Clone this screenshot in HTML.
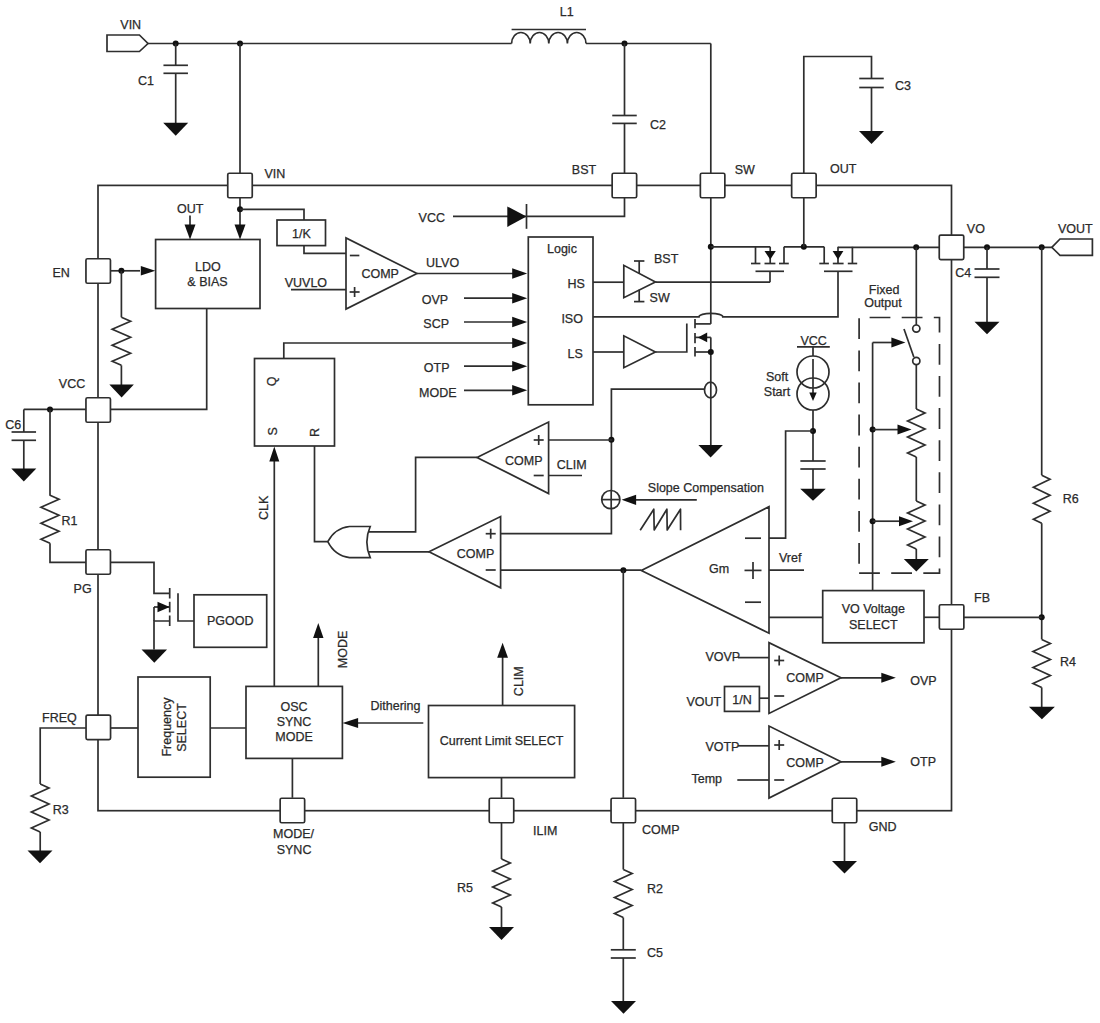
<!DOCTYPE html>
<html><head><meta charset="utf-8"><style>
html,body{margin:0;padding:0;background:#fff;width:1100px;height:1023px;overflow:hidden}
svg{display:block}
text{font-family:"Liberation Sans",sans-serif;fill:#2a2a2a;stroke:#2a2a2a;stroke-width:0.25px}
</style></head><body>
<svg width="1100" height="1023" viewBox="0 0 1100 1023">
<g fill="none" stroke="#2e2e2e" stroke-width="1.7" stroke-linecap="butt" stroke-linejoin="miter">
<polygon points="107,35 139.4,35 148,43.5 139.4,51.5 107,51.5"/>
<text x="120.3" y="28.5" font-size="12.5" text-anchor="start" >VIN</text>
<line x1="148" y1="43.5" x2="511.6" y2="43.5"/>
<circle cx="175.7" cy="43.5" r="3" fill="#111" stroke="none"/>
<circle cx="240" cy="43.5" r="3" fill="#111" stroke="none"/>
<line x1="175.7" y1="43.5" x2="175.7" y2="65.3"/>
<line x1="163.45" y1="65.3" x2="187.95" y2="65.3"/>
<line x1="163.45" y1="73.3" x2="187.95" y2="73.3"/>
<line x1="175.7" y1="73.3" x2="175.7" y2="123"/>
<polygon points="163.20,122.7 188.20,122.7 175.7,135.7" fill="#111" stroke="none"/>
<text x="138" y="85.2" font-size="12.5" text-anchor="start" >C1</text>
<line x1="240" y1="43.5" x2="240" y2="173.3"/>
<path d="M511.6,43.5 A9.30,11 0 0 1 530.20,43.5 A9.30,11 0 0 1 548.80,43.5 A9.30,11 0 0 1 567.40,43.5 A9.30,11 0 0 1 586.00,43.5 " fill="none"/>
<line x1="511.6" y1="29.5" x2="586" y2="29.5"/>
<text x="559.8" y="15.5" font-size="12.5" text-anchor="start" >L1</text>
<line x1="586" y1="43.5" x2="710.8" y2="43.5"/>
<circle cx="624.5" cy="43.5" r="3" fill="#111" stroke="none"/>
<line x1="710.8" y1="43.5" x2="710.8" y2="173.3"/>
<line x1="624.5" y1="43.5" x2="624.5" y2="115.5"/>
<line x1="612.25" y1="115.5" x2="636.75" y2="115.5"/>
<line x1="612.25" y1="123.4" x2="636.75" y2="123.4"/>
<line x1="624.5" y1="123.4" x2="624.5" y2="173.3"/>
<text x="650" y="129.2" font-size="12.5" text-anchor="start" >C2</text>
<polyline points="803.8,173.3 803.8,56.5 871.5,56.5 871.5,78.5"/>
<line x1="859.25" y1="78.5" x2="883.75" y2="78.5"/>
<line x1="859.25" y1="87.5" x2="883.75" y2="87.5"/>
<line x1="871.5" y1="87.5" x2="871.5" y2="131.5"/>
<polygon points="859.00,131 884.00,131 871.5,144" fill="#111" stroke="none"/>
<text x="895" y="90" font-size="12.5" text-anchor="start" >C3</text>
<rect x="98" y="185.4" width="853.50" height="625.30" fill="none"/>
<text x="264.5" y="178.2" font-size="12.5" text-anchor="start" >VIN</text>
<text x="571.8" y="174.2" font-size="12.5" text-anchor="start" >BST</text>
<text x="734.7" y="174.2" font-size="12.5" text-anchor="start" >SW</text>
<text x="830" y="173.4" font-size="12.5" text-anchor="start" >OUT</text>
<text x="966.8" y="232.7" font-size="12.5" text-anchor="start" >VO</text>
<text x="1058" y="232.7" font-size="12.5" text-anchor="start" >VOUT</text>
<text x="52.5" y="277" font-size="12.5" text-anchor="start" >EN</text>
<text x="58.8" y="387.8" font-size="12.5" text-anchor="start" >VCC</text>
<text x="73.6" y="593.3" font-size="12.5" text-anchor="start" >PG</text>
<text x="42" y="722.3" font-size="12.5" text-anchor="start" >FREQ</text>
<text x="273" y="838" font-size="12.5" text-anchor="start" >MODE/</text>
<text x="276.7" y="853.6" font-size="12.5" text-anchor="start" >SYNC</text>
<text x="533" y="835" font-size="12.5" text-anchor="start" >ILIM</text>
<text x="642" y="834.2" font-size="12.5" text-anchor="start" >COMP</text>
<text x="868.8" y="831" font-size="12.5" text-anchor="start" >GND</text>
<text x="974" y="601.5" font-size="12.5" text-anchor="start" >FB</text>
<line x1="110.4" y1="270.8" x2="140" y2="270.8"/>
<circle cx="121.4" cy="270.8" r="3" fill="#111" stroke="none"/>
<polygon points="155.3,270.8 140.8,266.0 140.8,275.6" fill="#111" stroke="none"/>
<rect x="155.6" y="239.5" width="104.40" height="69.00" fill="none"/>
<text x="207.8" y="271" font-size="12.5" text-anchor="middle" >LDO</text>
<text x="207.5" y="286" font-size="12.5" text-anchor="middle" >&amp; BIAS</text>
<line x1="190" y1="215.5" x2="190" y2="226"/>
<polygon points="190,239.5 184.5,224.5 195.5,224.5" fill="#111" stroke="none"/>
<text x="177" y="212.7" font-size="12.5" text-anchor="start" >OUT</text>
<line x1="240" y1="197.8" x2="240" y2="226"/>
<circle cx="240" cy="209.3" r="3" fill="#111" stroke="none"/>
<polygon points="240,239.5 234.5,224.5 245.5,224.5" fill="#111" stroke="none"/>
<line x1="121.4" y1="270.8" x2="121.4" y2="317.3"/>
<polyline points="121.4,317.3 130.6,321.3 112.2,329.3 130.6,337.3 112.2,345.3 130.6,353.3 112.2,361.3 121.4,365.3"/>
<line x1="121.4" y1="365.3" x2="121.4" y2="385"/>
<polygon points="109.35,384.6 133.85,384.6 121.6,397.6" fill="#111" stroke="none"/>
<polyline points="206.7,308.5 206.7,409.4 110.6,409.4"/>
<line x1="86" y1="409.4" x2="23.8" y2="409.4"/>
<circle cx="50" cy="409.4" r="3" fill="#111" stroke="none"/>
<line x1="23.8" y1="409.4" x2="23.8" y2="432"/>
<line x1="11.55" y1="432" x2="36.05" y2="432"/>
<line x1="11.55" y1="440.3" x2="36.05" y2="440.3"/>
<line x1="23.8" y1="440.3" x2="23.8" y2="469"/>
<polygon points="11.30,468.5 36.30,468.5 23.8,481.5" fill="#111" stroke="none"/>
<text x="5.3" y="429.2" font-size="12.5" text-anchor="start" >C6</text>
<line x1="50" y1="409.4" x2="50" y2="495.8"/>
<polyline points="50,495.3 59,499.3 41,507.3 59,515.3 41,523.3 59,531.3 41,539.3 50,543.3"/>
<polyline points="50,543.3 50,562.3 86,562.3"/>
<text x="61.5" y="524.5" font-size="12.5" text-anchor="start" >R1</text>
<polyline points="110.4,562.3 154,562.3 154,593.3 169.7,593.3"/>
<line x1="169.7" y1="588" x2="169.7" y2="598.5"/>
<line x1="169.7" y1="601.8" x2="169.7" y2="612.4"/>
<line x1="169.7" y1="615.5" x2="169.7" y2="626"/>
<polyline points="154,607 169.7,607"/>
<polygon points="169.7,607 157.5,601.8 157.5,612.2" fill="#111" stroke="none"/>
<polyline points="169.7,621 154,621 154,649.5"/>
<line x1="154" y1="607" x2="154" y2="621"/>
<polygon points="141.55,649.5 167.05,649.5 154.3,662.8" fill="#111" stroke="none"/>
<polyline points="178,593.3 178,621 194,621"/>
<rect x="194" y="594.8" width="72.70" height="52.50" fill="none"/>
<text x="230.3" y="625" font-size="12.5" text-anchor="middle" >PGOOD</text>
<polyline points="240,209.3 304,209.3 304,220"/>
<rect x="277" y="220" width="48.50" height="25.60" fill="none"/>
<text x="301.5" y="238" font-size="12.5" text-anchor="middle" >1/K</text>
<polyline points="304,245.6 304,253.4 346,253.4"/>
<polygon points="346,238 346,309 417,273.5"/>
<line x1="349.85" y1="255.5" x2="359.35" y2="255.5"/>
<line x1="349.6" y1="292" x2="359.6" y2="292"/>
<line x1="354.6" y1="287.0" x2="354.6" y2="297.0"/>
<text x="361.4" y="278" font-size="12.5" text-anchor="start" >COMP</text>
<text x="284.7" y="287.4" font-size="12.5" text-anchor="start" >VUVLO</text>
<line x1="291" y1="289.6" x2="346" y2="289.6"/>
<line x1="417" y1="273.5" x2="514" y2="273.5"/>
<polygon points="527.2,273.5 512.2,268.2 512.2,278.8" fill="#111" stroke="none"/>
<text x="426" y="267.3" font-size="12.5" text-anchor="start" >ULVO</text>
<line x1="464" y1="298.2" x2="514" y2="298.2"/>
<polygon points="527.2,298.2 512.2,292.9 512.2,303.5" fill="#111" stroke="none"/>
<text x="421.7" y="304.4" font-size="12.5" text-anchor="start" >OVP</text>
<line x1="464" y1="322" x2="514" y2="322"/>
<polygon points="527.2,322 512.2,316.7 512.2,327.3" fill="#111" stroke="none"/>
<text x="423.3" y="328.2" font-size="12.5" text-anchor="start" >SCP</text>
<line x1="464" y1="366.2" x2="514" y2="366.2"/>
<polygon points="527.2,366.2 512.2,360.9 512.2,371.5" fill="#111" stroke="none"/>
<text x="423.8" y="372.4" font-size="12.5" text-anchor="start" >OTP</text>
<line x1="464" y1="390.3" x2="514" y2="390.3"/>
<polygon points="527.2,390.3 512.2,385.0 512.2,395.6" fill="#111" stroke="none"/>
<text x="419" y="396.5" font-size="12.5" text-anchor="start" >MODE</text>
<polyline points="283.8,358.5 283.8,343 514,343"/>
<polygon points="527.2,343 512.2,337.7 512.2,348.3" fill="#111" stroke="none"/>
<rect x="528.3" y="237" width="64.70" height="167.80" fill="none"/>
<text x="547" y="252.6" font-size="12.5" text-anchor="start" >Logic</text>
<text x="567.6" y="288.3" font-size="12.5" text-anchor="start" >HS</text>
<text x="561.4" y="323.4" font-size="12.5" text-anchor="start" >ISO</text>
<text x="567.6" y="358.4" font-size="12.5" text-anchor="start" >LS</text>
<text x="418.6" y="221.7" font-size="12.5" text-anchor="start" >VCC</text>
<polyline points="453,216.3 624.5,216.3 624.5,197.8"/>
<polygon points="507.3,206.5 507.3,227 526.5,216.5" fill="#111" stroke="none"/>
<line x1="526.5" y1="204" x2="526.5" y2="228.8"/>
<line x1="593" y1="282.2" x2="623.8" y2="282.2"/>
<polygon points="623.8,265.3 623.8,297.7 655.4,282"/>
<line x1="639.2" y1="261" x2="639.2" y2="273.3"/>
<line x1="634" y1="261" x2="644.4" y2="261"/>
<line x1="639.2" y1="289.7" x2="639.2" y2="301.6"/>
<line x1="634" y1="301.6" x2="644.4" y2="301.6"/>
<text x="654" y="262.8" font-size="12.5" text-anchor="start" >BST</text>
<text x="649.6" y="302.4" font-size="12.5" text-anchor="start" >SW</text>
<line x1="655.4" y1="282.2" x2="770" y2="282.2"/>
<line x1="593" y1="352" x2="623.8" y2="352"/>
<polygon points="623.8,335.8 623.8,367.7 655.4,352"/>
<polyline points="655.4,352 686.8,352 686.8,323.5"/>
<line x1="710.8" y1="197.8" x2="710.8" y2="323.9"/>
<line x1="710.8" y1="337.4" x2="710.8" y2="382.2"/>
<line x1="710.8" y1="397.9" x2="710.8" y2="446"/>
<circle cx="710.8" cy="246.8" r="3" fill="#111" stroke="none"/>
<ellipse cx="710.5" cy="390" rx="6" ry="7.9" fill="none"/>
<line x1="710.8" y1="382" x2="710.8" y2="398"/>
<polygon points="698.35,445 722.85,445 710.6,457.5" fill="#111" stroke="none"/>
<line x1="695" y1="318.9" x2="695" y2="328.3"/>
<line x1="695" y1="333" x2="695" y2="343.2"/>
<line x1="695" y1="347" x2="695" y2="356.5"/>
<line x1="695" y1="323.9" x2="710.8" y2="323.9"/>
<line x1="695" y1="352" x2="710.8" y2="352"/>
<line x1="695" y1="337.4" x2="710.8" y2="337.4"/>
<polygon points="697.8,337.4 707.2,332.6 707.2,342.2" fill="#111" stroke="none"/>
<circle cx="710.8" cy="352" r="3" fill="#111" stroke="none"/>
<path d="M593,316.8 L699,316.8 A11.9,3.4 0 0 1 722.8,316.8 L838,316.8 L838,271.3" fill="none"/>
<line x1="710.8" y1="246.8" x2="770.2" y2="246.8"/>
<line x1="755.5" y1="246.8" x2="755.5" y2="263.5"/>
<line x1="751" y1="263.5" x2="760.4" y2="263.5"/>
<line x1="770.2" y1="246.8" x2="770.2" y2="263.5"/>
<line x1="764.5" y1="263.5" x2="775.4" y2="263.5"/>
<polygon points="764.5,251 775.8,251 770.2,259.6" fill="#111" stroke="none"/>
<line x1="784" y1="246.8" x2="784" y2="263.5"/>
<line x1="779" y1="263.5" x2="788.8" y2="263.5"/>
<line x1="755.5" y1="271.3" x2="784" y2="271.3"/>
<line x1="770" y1="271.3" x2="770" y2="282.2"/>
<line x1="784" y1="246.8" x2="824.2" y2="246.8"/>
<circle cx="803.8" cy="246.8" r="3" fill="#111" stroke="none"/>
<line x1="803.8" y1="197.8" x2="803.8" y2="246.8"/>
<line x1="824.2" y1="246.8" x2="824.2" y2="263.5"/>
<line x1="819.3" y1="263.5" x2="828.9" y2="263.5"/>
<line x1="838" y1="246.8" x2="838" y2="263.5"/>
<line x1="832.8" y1="263.5" x2="843.6" y2="263.5"/>
<polygon points="832.6,251 843.4,251 838,259.6" fill="#111" stroke="none"/>
<line x1="852.4" y1="246.8" x2="852.4" y2="263.5"/>
<line x1="847.8" y1="263.5" x2="857.2" y2="263.5"/>
<line x1="824" y1="271.3" x2="852.5" y2="271.3"/>
<line x1="838" y1="247.3" x2="939.3" y2="247.3"/>
<circle cx="916.2" cy="247.3" r="3" fill="#111" stroke="none"/>
<polyline points="704.5,389.2 611.4,389.2 611.4,490.8"/>
<circle cx="611.4" cy="439.8" r="3" fill="#111" stroke="none"/>
<text x="800.4" y="344.5" font-size="12.5" text-anchor="start" >VCC</text>
<line x1="797" y1="346.9" x2="829.8" y2="346.9"/>
<line x1="813" y1="346.9" x2="813" y2="356"/>
<circle cx="813" cy="372" r="16" fill="none"/><circle cx="813" cy="394" r="16" fill="none"/>
<line x1="813" y1="359" x2="813" y2="395"/>
<polygon points="809.3,392.5 816.7,392.5 813,401" fill="#111" stroke="none"/>
<line x1="813" y1="410" x2="813" y2="461"/>
<circle cx="813" cy="431" r="3" fill="#111" stroke="none"/>
<line x1="800.35" y1="461" x2="825.65" y2="461"/>
<line x1="800.35" y1="469" x2="825.65" y2="469"/>
<line x1="813" y1="469" x2="813" y2="489"/>
<polygon points="800.25,488.8 825.75,488.8 813,500.8" fill="#111" stroke="none"/>
<text x="766" y="381" font-size="12.5" text-anchor="start" >Soft</text>
<text x="763.8" y="396.3" font-size="12.5" text-anchor="start" >Start</text>
<polyline points="813,431 785.6,431 785.6,538.2 769,538.2"/>
<text x="868.8" y="293.7" font-size="12.5" text-anchor="start" >Fixed</text>
<text x="864.2" y="306.5" font-size="12.5" text-anchor="start" >Output</text>
<path d="M859.1,573.2 H939.5 V317.5 H859.1 Z" fill="none" stroke-dasharray="20.8,11.3"/>
<line x1="916.3" y1="247.3" x2="916.3" y2="325"/>
<circle cx="916.3" cy="328.6" r="3.6" fill="#fff"/><circle cx="916.3" cy="361" r="3.6" fill="#fff"/>
<line x1="904" y1="329" x2="913.8" y2="357"/>
<line x1="872.6" y1="342.5" x2="892" y2="342.5"/>
<polygon points="905.4,342.5 891.4,337.5 891.4,347.5" fill="#111" stroke="none"/>
<line x1="872.6" y1="342.5" x2="872.6" y2="590.6"/>
<line x1="916.3" y1="364.6" x2="916.3" y2="409"/>
<polyline points="916.3,409 925.0,413.0 907.6,421.0 925.0,429.0 907.6,437.0 925.0,445.0 907.6,453.0 916.3,457.0"/>
<line x1="916.3" y1="457" x2="916.3" y2="501"/>
<polyline points="916.3,501 925.0,505.0 907.6,513.0 925.0,521.0 907.6,529.0 925.0,537.0 907.6,545.0 916.3,549.0"/>
<line x1="916.3" y1="549" x2="916.3" y2="559.5"/>
<polygon points="903.80,559 928.80,559 916.3,571.5" fill="#111" stroke="none"/>
<circle cx="872.6" cy="429.6" r="3" fill="#111" stroke="none"/>
<line x1="872.6" y1="429.6" x2="898" y2="429.6"/>
<polygon points="911.5,429.6 897.5,424.6 897.5,434.6" fill="#111" stroke="none"/>
<circle cx="872.6" cy="521.2" r="3" fill="#111" stroke="none"/>
<line x1="872.6" y1="521.2" x2="899" y2="521.2"/>
<polygon points="913,521.2 899,516.2 899,526.2" fill="#111" stroke="none"/>
<line x1="963.6" y1="247.3" x2="1051.8" y2="247.3"/>
<polygon points="1051.8,247.3 1060,239 1092.4,239 1092.4,255.3 1060,255.3"/>
<circle cx="987" cy="247.3" r="3" fill="#111" stroke="none"/>
<line x1="987" y1="247.3" x2="987" y2="269"/>
<line x1="974.5" y1="269" x2="999.5" y2="269"/>
<line x1="974.5" y1="277.3" x2="999.5" y2="277.3"/>
<line x1="987" y1="277.3" x2="987" y2="322"/>
<polygon points="974.50,321.8 999.50,321.8 987,334.3" fill="#111" stroke="none"/>
<text x="955.3" y="277.2" font-size="12.5" text-anchor="start" >C4</text>
<circle cx="1041.7" cy="247.3" r="3" fill="#111" stroke="none"/>
<line x1="1041.7" y1="247.3" x2="1041.7" y2="475.2"/>
<polyline points="1041.7,475.2 1050.0,479.2 1033.4,487.2 1050.0,495.2 1033.4,503.2 1050.0,511.2 1033.4,519.2 1041.7,523.2"/>
<line x1="1041.7" y1="523.2" x2="1041.7" y2="639.4"/>
<polyline points="1041.7,639.4 1050.4,643.4 1033.0,651.4 1050.4,659.4 1033.0,667.4 1050.4,675.4 1033.0,683.4 1041.7,687.4"/>
<line x1="1041.7" y1="687.4" x2="1041.7" y2="707"/>
<polygon points="1028.90,706.7 1054.90,706.7 1041.9,719.2" fill="#111" stroke="none"/>
<circle cx="1041.7" cy="617.3" r="3" fill="#111" stroke="none"/>
<line x1="963.8" y1="617.3" x2="1041.7" y2="617.3"/>
<text x="1062.8" y="502.6" font-size="12.5" text-anchor="start" >R6</text>
<text x="1060" y="666.3" font-size="12.5" text-anchor="start" >R4</text>
<rect x="822.7" y="590.6" width="101.30" height="52.20" fill="none"/>
<text x="873.3" y="612.8" font-size="12.5" text-anchor="middle" >VO Voltage</text>
<text x="873.3" y="628.6" font-size="12.5" text-anchor="middle" >SELECT</text>
<line x1="769" y1="617.3" x2="822.7" y2="617.3"/>
<line x1="924" y1="617.3" x2="939.4" y2="617.3"/>
<polygon points="769,506.7 769,633.2 641.3,570.4"/>
<line x1="745.0" y1="538.2" x2="761.0" y2="538.2"/>
<line x1="744.5" y1="570.4" x2="761.5" y2="570.4"/>
<line x1="753" y1="561.9" x2="753" y2="578.9"/>
<line x1="745.0" y1="602.2" x2="761.0" y2="602.2"/>
<text x="709" y="572.5" font-size="12.5" text-anchor="start" >Gm</text>
<line x1="769" y1="570.2" x2="804" y2="570.2"/>
<text x="779" y="561.5" font-size="12.5" text-anchor="start" >Vref</text>
<line x1="641.3" y1="570.2" x2="500.6" y2="570.2"/>
<circle cx="623.4" cy="570.2" r="3" fill="#111" stroke="none"/>
<line x1="623.3" y1="570.2" x2="623.3" y2="797.8"/>
<circle cx="610.8" cy="499.6" r="9.1" fill="none"/>
<line x1="601.7" y1="499.6" x2="619.9" y2="499.6"/>
<line x1="611.2" y1="490.5" x2="611.2" y2="508.7"/>
<line x1="630" y1="499.8" x2="696.8" y2="499.8"/>
<polygon points="621.6,499.8 636.1,494.7 636.1,504.90000000000003" fill="#111" stroke="none"/>
<text x="647.8" y="492" font-size="12.5" text-anchor="start" >Slope Compensation</text>
<polyline points="640.2,530.2 653.8,509.2 654.2,530 666.9,509.2 667.2,530 680.5,509.2 680.6,530.2" stroke-linejoin="round"/>
<polyline points="611.4,508.4 611.4,533.6 500.6,533.6"/>
<polygon points="548.6,422 548.6,493.5 477,457.4"/>
<line x1="533.7" y1="440" x2="543.7" y2="440"/>
<line x1="538.7" y1="435.0" x2="538.7" y2="445.0"/>
<line x1="533.7" y1="475.5" x2="543.7" y2="475.5"/>
<text x="505" y="465" font-size="12.5" text-anchor="start" >COMP</text>
<line x1="548.6" y1="440" x2="612.3" y2="440"/>
<line x1="548.6" y1="475.5" x2="582" y2="475.5"/>
<text x="556.8" y="468.5" font-size="12.5" text-anchor="start" >CLIM</text>
<polyline points="477,457.4 415.6,457.4 415.6,531.9 368.5,531.9"/>
<polygon points="500.6,516.6 500.6,587.8 429,551.7"/>
<line x1="485.7" y1="533.7" x2="495.7" y2="533.7"/>
<line x1="490.7" y1="528.7" x2="490.7" y2="538.7"/>
<line x1="485.7" y1="570" x2="495.7" y2="570"/>
<text x="456.8" y="557.7" font-size="12.5" text-anchor="start" >COMP</text>
<line x1="429" y1="551.9" x2="368.5" y2="551.9"/>
<path d="M370.2,526.5 L349.5,526.5 Q335,528 327.8,541.7 Q335,556 349.5,557.6 L370.2,557.6 Q363.5,542 370.2,526.5 Z" fill="none"/>
<polyline points="314.5,446 314.5,541.6 327.8,541.6"/>
<rect x="254.5" y="358.5" width="80.00" height="87.50" fill="none"/>
<text x="0" y="0" font-size="12.5" text-anchor="middle" transform="translate(272,381.3) rotate(-90)" dy="0.35em">Q</text>
<text x="0" y="0" font-size="12.5" text-anchor="middle" transform="translate(272.8,431.3) rotate(-90)" dy="0.35em">S</text>
<text x="0" y="0" font-size="12.5" text-anchor="middle" transform="translate(315,432.4) rotate(-90)" dy="0.35em">R</text>
<line x1="274.3" y1="686.4" x2="274.3" y2="461"/>
<polygon points="274.3,446.4 269.3,461.4 279.3,461.4" fill="#111" stroke="none"/>
<text x="0" y="0" font-size="12.5" text-anchor="middle" transform="translate(263.6,507.8) rotate(-90)" dy="0.35em">CLK</text>
<rect x="138" y="677" width="72.20" height="100.20" fill="none"/>
<text x="0" y="0" font-size="12.5" text-anchor="middle" transform="translate(166.8,727) rotate(-90)" dy="0.35em">Frequency</text>
<text x="0" y="0" font-size="12.5" text-anchor="middle" transform="translate(181.4,727.5) rotate(-90)" dy="0.35em">SELECT</text>
<line x1="110.6" y1="728" x2="138" y2="728"/>
<line x1="210.2" y1="728" x2="246" y2="728"/>
<rect x="246" y="686.4" width="96.40" height="72.00" fill="none"/>
<text x="294" y="711" font-size="12.5" text-anchor="middle" >OSC</text>
<text x="294" y="726" font-size="12.5" text-anchor="middle" >SYNC</text>
<text x="294" y="741" font-size="12.5" text-anchor="middle" >MODE</text>
<line x1="318.3" y1="686.4" x2="318.3" y2="636"/>
<polygon points="318.3,623 313.1,638 323.5,638" fill="#111" stroke="none"/>
<text x="0" y="0" font-size="12.5" text-anchor="middle" transform="translate(342.7,649.5) rotate(-90)" dy="0.35em">MODE</text>
<line x1="292.4" y1="758.4" x2="292.4" y2="797.8"/>
<line x1="423.3" y1="723" x2="356" y2="723"/>
<polygon points="342.6,723 358.1,718 358.1,728" fill="#111" stroke="none"/>
<text x="370.5" y="710" font-size="12.5" text-anchor="start" >Dithering</text>
<rect x="428.5" y="705.5" width="146.10" height="72.10" fill="none"/>
<text x="501.5" y="745" font-size="12.5" text-anchor="middle" >Current Limit SELECT</text>
<line x1="502.6" y1="705.5" x2="502.6" y2="656"/>
<polygon points="502.6,642.7 497.20000000000005,657.7 508.0,657.7" fill="#111" stroke="none"/>
<text x="0" y="0" font-size="12.5" text-anchor="middle" transform="translate(518.2,681.2) rotate(-90)" dy="0.35em">CLIM</text>
<line x1="501.5" y1="777.6" x2="501.5" y2="797.8"/>
<polyline points="86,728 40.2,728 40.2,784"/>
<polyline points="40.2,784 49.0,788.0 31.4,796.0 49.0,804.0 31.4,812.0 49.0,820.0 31.4,828.0 40.2,832.0"/>
<line x1="40.2" y1="832" x2="40.2" y2="851.5"/>
<polygon points="27.50,850.5 52.50,850.5 40,863.3" fill="#111" stroke="none"/>
<text x="52.7" y="814" font-size="12.5" text-anchor="start" >R3</text>
<line x1="501.5" y1="822.3" x2="501.5" y2="859"/>
<polyline points="501.5,859 510.3,863.0 492.7,871.0 510.3,879.0 492.7,887.0 510.3,895.0 492.7,903.0 501.5,907.0"/>
<line x1="501.5" y1="907" x2="501.5" y2="927.5"/>
<polygon points="489.00,927 514.00,927 501.5,940" fill="#111" stroke="none"/>
<text x="457" y="892" font-size="12.5" text-anchor="start" >R5</text>
<line x1="623.3" y1="822.3" x2="623.3" y2="869.5"/>
<polyline points="623.3,869.5 632.1,873.5 614.5,881.5 632.1,889.5 614.5,897.5 632.1,905.5 614.5,913.5 623.3,917.5"/>
<line x1="623.3" y1="917.5" x2="623.3" y2="949.8"/>
<line x1="610.8" y1="949.8" x2="635.8" y2="949.8"/>
<line x1="610.8" y1="958" x2="635.8" y2="958"/>
<line x1="623.3" y1="958" x2="623.3" y2="1001.5"/>
<polygon points="611.00,1001 636.00,1001 623.5,1013.8" fill="#111" stroke="none"/>
<text x="647" y="893" font-size="12.5" text-anchor="start" >R2</text>
<text x="647" y="956.5" font-size="12.5" text-anchor="start" >C5</text>
<line x1="844.5" y1="822.3" x2="844.5" y2="861.5"/>
<polygon points="832.00,861 857.00,861 844.5,873.5" fill="#111" stroke="none"/>
<polygon points="769,642.7 769,713.5 841,677.8"/>
<line x1="774.2" y1="660.5" x2="784.2" y2="660.5"/>
<line x1="779.2" y1="655.5" x2="779.2" y2="665.5"/>
<line x1="774.2" y1="696" x2="784.2" y2="696"/>
<text x="805" y="681.6" font-size="12.5" text-anchor="middle" >COMP</text>
<text x="705.4" y="661.2" font-size="12.5" text-anchor="start" >VOVP</text>
<line x1="738" y1="657.6" x2="769" y2="657.6"/>
<rect x="724.5" y="686.5" width="34.90" height="24.90" fill="none"/>
<text x="742" y="703.8" font-size="12.5" text-anchor="middle" >1/N</text>
<line x1="759.4" y1="698.2" x2="769" y2="698.2"/>
<text x="686.4" y="705.8" font-size="12.5" text-anchor="start" >VOUT</text>
<line x1="841" y1="677.8" x2="882" y2="677.8"/>
<polygon points="895.8,677.8 881.3,672.8 881.3,682.8" fill="#111" stroke="none"/>
<text x="910.3" y="685" font-size="12.5" text-anchor="start" >OVP</text>
<polygon points="769,726 769,798 841,761.8"/>
<line x1="774.2" y1="745" x2="784.2" y2="745"/>
<line x1="779.2" y1="740.0" x2="779.2" y2="750.0"/>
<line x1="774.2" y1="780" x2="784.2" y2="780"/>
<text x="805" y="766.5" font-size="12.5" text-anchor="middle" >COMP</text>
<text x="705.4" y="750.9" font-size="12.5" text-anchor="start" >VOTP</text>
<line x1="738" y1="745.8" x2="769" y2="745.8"/>
<text x="691.5" y="782.8" font-size="12.5" text-anchor="start" >Temp</text>
<line x1="737.3" y1="780" x2="769" y2="780"/>
<line x1="841" y1="761.8" x2="882" y2="761.8"/>
<polygon points="895.8,761.8 881.3,756.8 881.3,766.8" fill="#111" stroke="none"/>
<text x="910.3" y="766.4" font-size="12.5" text-anchor="start" >OTP</text>
<rect x="227.75" y="173.25" width="24.5" height="24.5" rx="1.5" fill="#fff"/>
<rect x="612.15" y="173.25" width="24.5" height="24.5" rx="1.5" fill="#fff"/>
<rect x="700.35" y="173.25" width="24.5" height="24.5" rx="1.5" fill="#fff"/>
<rect x="791.65" y="173.25" width="24.5" height="24.5" rx="1.5" fill="#fff"/>
<rect x="85.95" y="258.75" width="24.5" height="24.5" rx="1.5" fill="#fff"/>
<rect x="85.95" y="397.75" width="24.5" height="24.5" rx="1.5" fill="#fff"/>
<rect x="85.95" y="549.75" width="24.5" height="24.5" rx="1.5" fill="#fff"/>
<rect x="86.05" y="715.05" width="24.5" height="24.5" rx="1.5" fill="#fff"/>
<rect x="280.15" y="798.25" width="24.5" height="24.5" rx="1.5" fill="#fff"/>
<rect x="489.25" y="798.25" width="24.5" height="24.5" rx="1.5" fill="#fff"/>
<rect x="611.05" y="798.25" width="24.5" height="24.5" rx="1.5" fill="#fff"/>
<rect x="832.25" y="798.25" width="24.5" height="24.5" rx="1.5" fill="#fff"/>
<rect x="939.25" y="235.05" width="24.5" height="24.5" rx="1.5" fill="#fff"/>
<rect x="939.35" y="604.75" width="24.5" height="24.5" rx="1.5" fill="#fff"/>
</g></svg></body></html>
